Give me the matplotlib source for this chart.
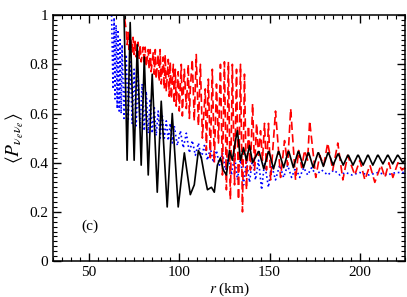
import matplotlib
matplotlib.use('Agg')
import matplotlib.pyplot as plt
from matplotlib.ticker import MultipleLocator

plt.rcParams['font.family'] = ['Liberation Serif', 'DejaVu Serif']
plt.rcParams['mathtext.fontset'] = 'stix'

# black solid curve
r_black = [30, 69.4, 71.1, 72.8, 75.0, 76.7, 78.9, 80.6, 82.8, 85.0, 87.8, 90.0, 93.3, 96.1,
           99.4, 102.8, 106.1, 108.3, 110.6, 112.2, 113.9, 115.6, 117.8, 119.4, 121.1, 122.8,
           124.4, 126.1, 127.8, 129.4, 131.1, 132.2, 133.9, 135.6, 137.2, 138.9, 140.6,
           143.8, 144.2, 146.8, 149.3, 149.7, 152.2, 154.8, 155.2, 157.8, 160.3, 160.7,
           163.2, 165.8, 166.2, 168.8, 171.3, 171.7, 174.2, 176.8, 177.2, 179.8, 182.3,
           182.7, 185.2, 187.8, 188.2, 190.8, 193.3, 193.7, 196.2, 198.8, 199.2, 201.8,
           204.3, 204.7, 207.2, 209.8, 210.2, 212.8, 215.3, 215.7, 218.2, 220.8, 221.2,
           223.8, 225]
p_black = [1.0, 1.0, 0.41, 0.97, 0.41, 0.88, 0.39, 0.83, 0.35, 0.76, 0.28, 0.65, 0.22, 0.60,
           0.22, 0.44, 0.27, 0.31, 0.45, 0.42, 0.35, 0.29, 0.30, 0.28, 0.39, 0.42,
           0.37, 0.35, 0.45, 0.41, 0.49, 0.53, 0.41, 0.46, 0.41, 0.47, 0.40,
           0.445, 0.445, 0.375, 0.445, 0.445, 0.375, 0.445, 0.445, 0.38, 0.445, 0.445,
           0.38, 0.445, 0.445, 0.38, 0.44, 0.44, 0.38, 0.44, 0.44, 0.385, 0.44,
           0.44, 0.39, 0.435, 0.435, 0.39, 0.43, 0.43, 0.39, 0.43, 0.43, 0.39,
           0.43, 0.43, 0.39, 0.43, 0.43, 0.395, 0.43, 0.43, 0.395, 0.43, 0.43,
           0.40, 0.41]

# red dashed curve
r_red = [30, 68.3, 69.4, 70.6, 71.1, 71.7, 72.2, 72.8, 73.9, 74.4, 75.0, 75.6, 76.1, 77.2,
         77.8, 78.3, 78.9, 80.0, 80.6, 81.1, 81.7, 82.8, 83.3, 83.9, 84.4, 85.6, 86.1, 86.7,
         87.2, 88.3, 88.9, 89.4, 90.0, 91.1, 91.7, 92.2, 92.8, 93.9, 94.4, 95.0, 95.6, 96.7,
         97.2, 97.8, 98.3, 99.4, 100.0, 101.1, 101.7, 102.8, 103.9, 105.0, 105.6, 106.1,
         107.2, 108.3, 109.4, 110.6, 111.7, 112.8, 114.4, 115.0, 116.1, 117.2, 118.3, 119.4,
         120.6, 121.7, 122.8, 123.9, 125.0, 126.1, 127.2, 128.3, 129.4, 130.6, 131.7, 132.8,
         133.9, 135.0, 136.1, 137.2, 138.3, 139.4, 140.6, 141.7, 142.8, 143.9, 145.0, 146.1,
         147.2, 148.3, 149.4, 150.6, 153.3, 156.1, 158.3, 160.0, 161.7, 164.4, 166.1, 167.8,
         169.4, 171.1, 172.2, 175.6, 177.8, 180.0, 182.2, 185.0, 187.8, 190.6, 193.3, 197.2,
         200.0, 202.8, 205.6, 208.3, 211.7, 213.9, 216.1, 218.3, 221.1, 223.3, 225.0]
p_red = [1.0, 1.0, 1.0, 0.94, 0.88, 0.93, 0.86, 0.92, 0.85, 0.91, 0.84, 0.90, 0.83, 0.89,
         0.82, 0.88, 0.81, 0.87, 0.80, 0.87, 0.79, 0.86, 0.78, 0.86, 0.77, 0.85, 0.76, 0.86,
         0.74, 0.84, 0.73, 0.86, 0.72, 0.83, 0.70, 0.84, 0.69, 0.82, 0.67, 0.81, 0.66, 0.80,
         0.64, 0.78, 0.63, 0.77, 0.61, 0.80, 0.59, 0.78, 0.62, 0.80, 0.58, 0.70,
         0.82, 0.57, 0.84, 0.55, 0.80, 0.50, 0.70, 0.45, 0.74, 0.42, 0.78, 0.40,
         0.72, 0.48, 0.80, 0.35, 0.81, 0.29, 0.81, 0.25, 0.80, 0.31, 0.78, 0.25,
         0.80, 0.20, 0.76, 0.29, 0.55, 0.37, 0.64, 0.37, 0.56, 0.43, 0.53, 0.41,
         0.56, 0.37, 0.56, 0.33, 0.61, 0.34, 0.49, 0.39, 0.62, 0.33, 0.45, 0.38,
         0.45, 0.41, 0.57, 0.34, 0.43, 0.39, 0.48, 0.37, 0.48, 0.33, 0.43, 0.35,
         0.41, 0.33, 0.39, 0.32, 0.39, 0.34, 0.40, 0.34, 0.40, 0.37, 0.38]

# blue dotted curve
r_blue = [62.5, 63.3, 63.9, 64.4, 65.0, 65.6, 66.1, 66.7, 67.2, 67.8, 68.3, 69.4, 70.6, 71.7,
          72.8, 73.9, 75.0, 76.1, 77.2, 78.3, 79.4, 80.6, 81.7, 82.8, 83.9, 85.0, 86.1, 87.2,
          88.3, 89.4, 90.6, 91.7, 92.8, 93.9, 95.0, 96.1, 97.2, 98.9, 100.6, 102.2, 103.9,
          105.6, 107.2, 108.9, 110.6, 112.2, 113.9, 115.6, 117.2, 118.9, 120.6, 122.2, 123.9,
          125.6, 127.2, 128.9, 130.6, 132.2, 133.9, 135.6, 137.2, 138.9, 140.6, 142.2, 143.9,
          145.6, 147.2, 149.4, 151.1, 153.3, 155.6, 157.8, 160.0, 162.2, 164.4, 166.7, 168.9,
          171.1, 173.3, 175.6, 178.9, 182.2, 185.6, 188.9, 192.2, 195.6, 200, 205, 210, 215,
          220, 225]
p_blue = [1.0, 0.70, 0.99, 0.66, 0.96, 0.62, 0.94, 0.61, 0.90, 0.60, 0.88, 0.58, 0.84, 0.57,
          0.81, 0.56, 0.78, 0.55, 0.75, 0.54, 0.72, 0.53, 0.69, 0.52, 0.66, 0.52, 0.63, 0.51,
          0.61, 0.50, 0.59, 0.50, 0.57, 0.49, 0.56, 0.48, 0.55, 0.47, 0.53, 0.46, 0.52,
          0.44, 0.49, 0.43, 0.48, 0.42, 0.47, 0.41, 0.46, 0.40, 0.45, 0.39, 0.44,
          0.37, 0.43, 0.35, 0.43, 0.33, 0.42, 0.31, 0.41, 0.32, 0.42, 0.33, 0.41,
          0.29, 0.40, 0.30, 0.39, 0.33, 0.39, 0.34, 0.39, 0.34, 0.38, 0.34, 0.38,
          0.35, 0.38, 0.35, 0.37, 0.35, 0.37, 0.35, 0.36, 0.35, 0.36, 0.35, 0.36, 0.35,
          0.36, 0.36]

fig = plt.figure(figsize=(4.07, 2.97), dpi=100)
ax = fig.add_axes([0.130, 0.121, 0.865, 0.828])

ax.plot(r_blue, p_blue, color='blue', ls=':', lw=1.2)
ax.plot(r_red, p_red, color='red', ls=(0, (5, 2.5)), lw=1.2)
ax.plot(r_black, p_black, color='black', ls='-', lw=1.2, solid_joinstyle='round')

ax.set_xlim(30, 225)
ax.set_ylim(0, 1)
ax.xaxis.set_major_locator(MultipleLocator(50))
ax.xaxis.set_minor_locator(MultipleLocator(5))
ax.yaxis.set_major_locator(MultipleLocator(0.2))
ax.yaxis.set_minor_locator(MultipleLocator(0.02))
ax.set_yticks([0, 0.2, 0.4, 0.6, 0.8, 1.0])
ax.set_yticklabels(['0', '0.2', '0.4', '0.6', '0.8', '1'])
ax.tick_params(which='both', direction='in', top=True, right=True, labelsize=11)
ax.tick_params(which='major', length=6, width=1)
ax.tick_params(which='minor', length=3, width=0.8)
for s in ax.spines.values():
    s.set_linewidth(1.1)

ax.set_xlabel('$r$ (km)', fontsize=11, labelpad=1)
ax.set_ylabel(r'$\langle P_{\nu_e\nu_e}\rangle$', fontsize=14, labelpad=2)
ax.text(50.5, 0.14, '(c)', fontsize=11, ha='center', va='center')

fig.savefig('out.png', dpi=100)
